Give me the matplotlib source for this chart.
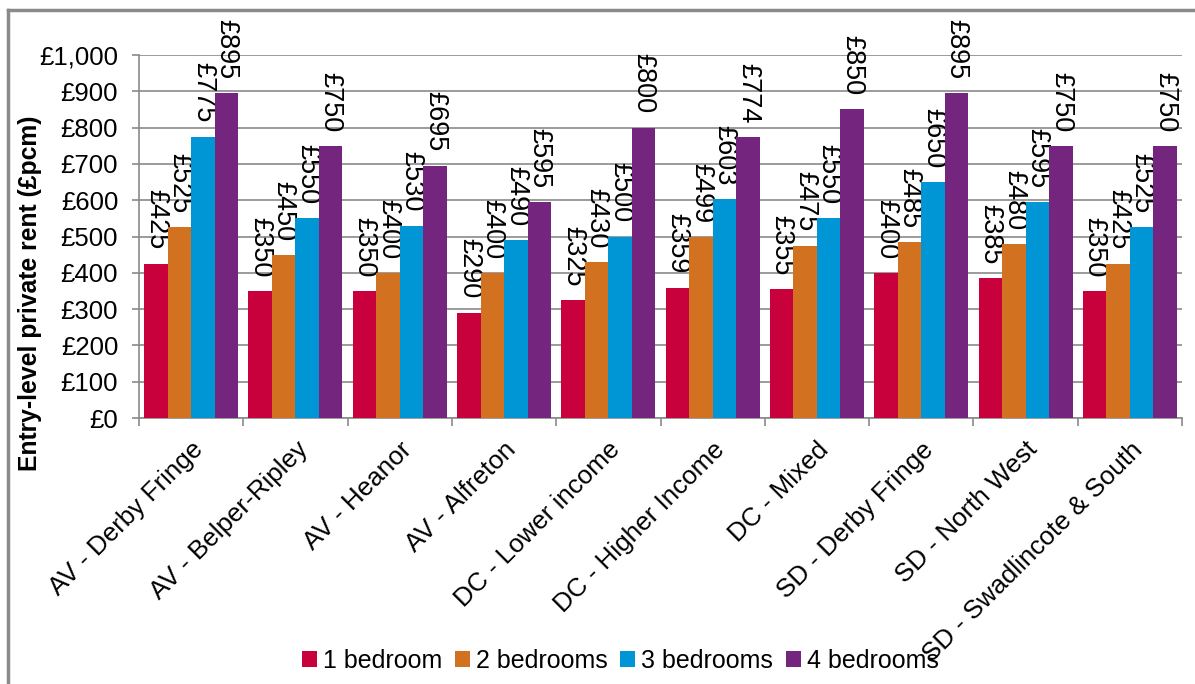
import matplotlib
matplotlib.use("Agg")
import matplotlib.pyplot as plt
import numpy as np
from matplotlib.lines import Line2D
from matplotlib.patches import Patch

plt.rcParams['font.family'] = ['Liberation Sans', 'DejaVu Sans']

categories = ["AV - Derby Fringe", "AV - Belper-Ripley", "AV - Heanor", "AV - Alfreton",
              "DC - Lower income", "DC - Higher Income", "DC - Mixed", "SD - Derby Fringe",
              "SD - North West", "SD - Swadlincote & South"]
series_names = ["1 bedroom", "2 bedrooms", "3 bedrooms", "4 bedrooms"]
bed1 = [425, 350, 350, 290, 325, 359, 355, 400, 385, 350]
bed2 = [525, 450, 400, 400, 430, 499, 475, 485, 480, 425]
bed3 = [775, 550, 530, 490, 500, 603, 550, 650, 595, 525]
bed4 = [895, 750, 695, 595, 800, 774, 850, 895, 750, 750]
colors = ['#C8003C', '#D2711F', '#0096D6', '#74257E']
yticks = [0, 100, 200, 300, 400, 500, 600, 700, 800, 900, 1000]

fig = plt.figure(figsize=(11.95, 6.84), dpi=100)
ax = fig.add_axes([139/1195, 1 - 418/684, (1182-139)/1195, (418-55)/684])

series = [bed1, bed2, bed3, bed4]
n = len(categories)
x = np.arange(n)
bw = 0.2255
for i, (vals, c) in enumerate(zip(series, colors)):
    pos = x + (i - 1.5) * bw
    ax.bar(pos, vals, width=bw, color=c, zorder=3, label=series_names[i])
    for p, v in zip(pos, vals):
        ax.annotate(f"£{v}", (p, v), xytext=(0, 14), textcoords='offset pixels',
                    rotation=270, ha='center', va='bottom', fontsize=19.5, color='black')

ax.set_xlim(-0.5, n - 0.5)
ax.set_ylim(0, 1000)
ax.set_yticks(yticks)
ax.set_yticklabels([f"£{v:,}" for v in yticks], fontsize=18.5)
ax.yaxis.grid(True, color='#8a8a8a', linewidth=1.2, zorder=0)
ax.set_axisbelow(True)
ax.set_xticks(x)
ax.set_xticklabels(categories, rotation=45, ha='right', rotation_mode='anchor', fontsize=18.7)
ax.set_xticks(np.arange(-0.5, n, 1), minor=True)
ax.tick_params(axis='x', which='major', length=0, pad=14)
ax.tick_params(axis='x', which='minor', length=6, color='#8a8a8a', width=1.2)
ax.tick_params(axis='y', length=5, color='#8a8a8a', width=1.2, pad=10)
for s in ['top', 'right']:
    ax.spines[s].set_visible(False)
for s in ['left', 'bottom']:
    ax.spines[s].set_color('#8a8a8a')
    ax.spines[s].set_linewidth(1.2)

ax.set_ylabel("Entry-level private rent (£pcm)", fontsize=17.8, fontweight='bold')
ax.yaxis.set_label_coords(-0.093, 0.344)

handles = [Patch(facecolor=c, label=nm) for c, nm in zip(colors, series_names)]
fig.legend(handles=handles, loc='center', bbox_to_anchor=(0.519, 0.034), ncol=4,
           frameon=False, fontsize=18, handlelength=0.6, handleheight=0.6,
           handletextpad=0.25, columnspacing=0.5)

# outer frame lines
fig.add_artist(Line2D([8/1195, 1], [1 - 10/684, 1 - 10/684], color='#8a8a8a', linewidth=2.5))
fig.add_artist(Line2D([8/1195, 8/1195], [0, 1 - 10/684], color='#8a8a8a', linewidth=2.5))

fig.savefig("out.png", dpi=100)
